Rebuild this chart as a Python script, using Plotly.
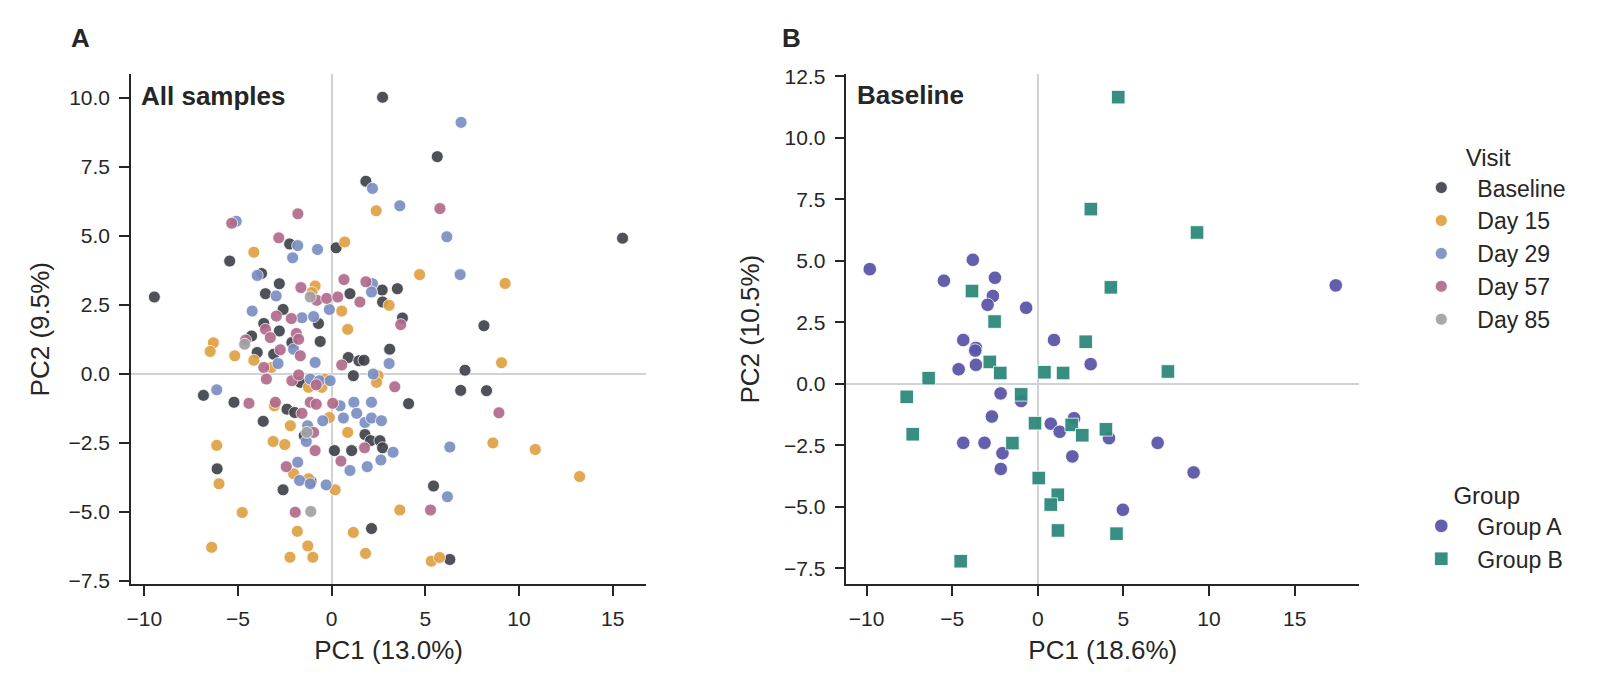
import plotly.graph_objects as go

# ---- panel A: all samples, PC scores by visit ----
visits = ["Baseline", "Day 15", "Day 29", "Day 57", "Day 85"]
visit_colors = ["#3f4349", "#e0a043", "#7b8fc3", "#b06b8b", "#a0a3a7"]

baseline_x = [2.72, 1.83, 5.64, 15.53, -5.44, -9.46, -6.84, -6.11, 2.13, 3.51, 3.78, 8.13, 7.12, 6.89, 8.27, 4.11, 5.44, 6.31,
              -2.24, 0.24, -3.74, -2.79, -3.53, 0.98, 2.70, 2.72, -2.59, -0.70, -3.62, -2.79, -4.27, -2.12, -0.61, -3.97, 0.89, 1.46, 1.73, 3.10, -3.09,
              1.16, -1.67, -5.21, -2.38, -1.97, -3.65, -1.46, 1.78, 2.08, 2.58, 2.72, 0.15, 1.07, -1.10, -2.59]
baseline_y = [10.01, 6.97, 7.86, 4.91, 4.08, 2.78, -0.78, -3.44, -5.60, 3.08, 2.02, 1.74, 0.13, -0.60, -0.61, -1.08, -4.06, -6.72,
              4.70, 4.56, 3.63, 3.26, 2.90, 2.90, 3.03, 2.60, 2.33, 1.82, 1.82, 1.55, 1.37, 1.13, 1.17, 0.77, 0.59, 0.47, 0.49, 0.89, 0.71,
              -0.07, -0.31, -1.03, -1.28, -1.40, -1.72, -2.24, -2.20, -2.42, -2.42, -2.68, -2.78, -2.78, -3.90, -4.20]

day15_x = [2.38, -6.31, -6.48, -6.13, -6.01, -6.40, -4.77, -1.83, -1.27, -2.22, -1.00, 1.16, 1.81,
           4.70, 9.26, 9.07, 8.61, 10.87, 13.24, 3.64, 5.32, 5.76,
           0.70, -4.15, -0.88, -1.05, 0.54, 3.07, -5.17, -4.15, 0.86,
           -3.21, -0.35, -1.23, -0.52, 2.48, 2.40, -3.05, -2.20, -0.12, -3.12, -2.50, 0.86, -2.03, -1.23, 0.19]
day15_y = [5.90, 1.12, 0.81, -2.59, -3.98, -6.28, -5.02, -5.70, -6.23, -6.64, -6.64, -5.74, -6.50,
           3.59, 3.27, 0.40, -2.50, -2.74, -3.72, -4.93, -6.78, -6.65,
           4.77, 4.40, 3.18, 2.94, 2.27, 2.48, 0.65, 0.49, 1.61,
           0.23, -0.19, -0.49, -0.49, -0.07, -0.31, -1.16, -1.88, -1.58, -2.45, -2.56, -2.12, -3.62, -3.80, -4.20]

day29_x = [2.18, -5.09, 6.91, 3.64, -6.13, 6.15, 6.86, 6.31, 6.18,
           -1.81, -0.75, -2.08, -3.97, -2.96, -0.12, 2.18, 2.13, -4.24, -1.58, -0.96, -2.03,
           -0.88, -2.86, -1.14, -0.65, -0.08, 2.22, 3.07, 0.45, -0.47, 0.63, 1.19, 2.13, 1.34, 1.78, 2.13, 2.66,
           -1.28, -1.35, 3.28, 0.98, 1.90, 2.63, -1.81, -1.71, -1.14, -0.29]
day29_y = [6.71, 5.52, 9.10, 6.08, -0.58, 4.96, 3.59, -2.65, -4.45,
           4.64, 4.50, 4.20, 3.56, 2.82, 2.33, 3.26, 2.96, 2.27, 2.03, 2.07, 0.89,
           0.41, 0.37, -0.19, -0.25, -0.25, -0.01, 0.37, -1.16, -1.70, -1.60, -1.03, -1.03, -1.43, -1.76, -1.60, -1.70,
           -1.88, -2.45, -2.84, -3.50, -3.36, -3.12, -3.20, -3.86, -3.98, -4.02]

day57_x = [-1.80, -5.33, 5.78, 3.69, 8.93, 5.28, -1.94,
           -2.82, -1.64, -0.79, -0.26, 0.33, 0.66, 1.51, 1.83, -2.95, -2.15, -3.53, -3.27, -4.59, -1.88, -1.76, -2.74, -1.67,
           -3.62, -3.48, -2.12, -1.76, -0.82, 0.54, 3.37, -4.41, -3.00, -1.58, -1.14, -0.82, 0.06, -0.96, -0.88, 1.76, 0.50, -2.42]
day57_y = [5.79, 5.45, 5.98, 1.78, -1.41, -4.93, -5.01,
           4.92, 3.12, 2.66, 2.73, 2.78, 3.41, 2.60, 3.33, 2.09, 2.00, 1.61, 1.31, 1.22, 1.46, 1.25, 0.87, 0.65,
           0.23, -0.19, -0.25, -0.04, -0.40, 0.32, -0.47, -1.07, -1.03, -1.43, -1.03, -1.10, -1.07, -2.12, -2.78, -2.68, -3.16, -3.36]

day85_x = [-1.14, -4.64, -1.32, -1.11]
day85_y = [2.78, 1.07, -2.12, -4.98]

# ---- panel B: baseline only, by group ----
groups = ["Group A", "Group B"]
group_colors = ["#5b57a8", "#2e8a7b"]

groupA_x = [-9.81, -3.79, -5.48, -2.50, -2.62, -2.93, -0.68, -4.35, -3.61, -3.65, -4.62, -3.61, 0.95, 3.09,
            -2.17, -0.97, -2.68, 0.76, 1.28, 2.12, -4.35, -3.11, -2.06, -2.16, 2.02, 4.16, 4.97, 7.0, 9.1, 17.4]
groupA_y = [4.66, 5.04, 4.19, 4.31, 3.57, 3.21, 3.09, 1.78, 1.46, 1.35, 0.59, 0.77, 1.78, 0.80,
            -0.39, -0.70, -1.33, -1.62, -1.95, -1.40, -2.40, -2.40, -2.82, -3.46, -2.95, -2.21, -5.12, -2.4, -3.6, 4.0]

groupB_x = [4.7, 3.1, 9.3, 4.27, -3.84, -2.52, 2.80, -2.80, -2.19, 0.39, 1.48, 7.6, -6.37, -7.65, -0.97,
            -7.30, -0.16, 1.98, 2.60, 3.98, -1.48, 0.06, 1.17, 0.76, 1.18, 4.60, -4.50]
groupB_y = [11.65, 7.1, 6.15, 3.92, 3.77, 2.53, 1.71, 0.89, 0.44, 0.47, 0.44, 0.5, 0.23, -0.53, -0.43,
            -2.05, -1.60, -1.67, -2.09, -1.85, -2.41, -3.83, -4.51, -4.91, -5.96, -6.09, -7.21]

visit_x = [baseline_x, day15_x, day29_x, day57_x, day85_x]
visit_y = [baseline_y, day15_y, day29_y, day57_y, day85_y]

FONT = "Liberation Sans, Arial, sans-serif"
INK = "#262626"

# page body keeps its default 8px margin; size the figure so the page is exactly 1600x691
W, H = 1600 - 16, 691 - 16


def px(x):  # screen x (px) -> paper x
    return (x - 8) / W


def py(y):  # screen y (px, from top) -> paper y
    return 1 - (y - 8) / H


fig = go.Figure()

for name, col, xs, ys in zip(visits, visit_colors, visit_x, visit_y):
    fig.add_trace(go.Scatter(
        x=xs, y=ys, mode="markers", name=name, xaxis="x", yaxis="y", legend="legend",
        marker=dict(size=12, color=col, opacity=0.92, line=dict(color="white", width=0.8)),
    ))

for name, col, sym, xs, ys in zip(groups, group_colors, ["circle", "square"],
                                  [groupA_x, groupB_x], [groupA_y, groupB_y]):
    fig.add_trace(go.Scatter(
        x=xs, y=ys, mode="markers", name=name, xaxis="x2", yaxis="y2", legend="legend2",
        marker=dict(size=13.5, symbol=sym, color=col, opacity=0.95,
                    line=dict(color="white", width=0.8)),
    ))

axis_common = dict(
    showline=True, linecolor=INK, linewidth=1.8, mirror=False,
    ticks="outside", ticklen=10, tickwidth=1.6, tickcolor=INK, ticklabelstandoff=5,
    showgrid=False, zeroline=True, zerolinecolor="#d0d3d6", zerolinewidth=1.5,
    tickfont=dict(family=FONT, size=21, color=INK),
    title_font=dict(family=FONT, size=26, color=INK),
)

legend_common = dict(xanchor="left", yanchor="top", bgcolor="rgba(0,0,0,0)", itemwidth=62,
                     font=dict(family=FONT, size=23, color=INK))

y_dom = [py(590.0), py(66.5)]

fig.update_layout(
    width=W, height=H,
    paper_bgcolor="white", plot_bgcolor="white",
    margin=dict(l=0, r=0, t=0, b=0),
    font=dict(family=FONT, color=INK),
    xaxis=dict(axis_common, domain=[px(126.5), px(643.0)], range=[-10.7, 16.78],
               tickvals=[-10, -5, 0, 5, 10, 15], title=dict(text="PC1 (13.0%)", standoff=11), anchor="y"),
    yaxis=dict(axis_common, domain=y_dom, range=[-7.62, 10.85],
               tickvals=[-7.5, -5, -2.5, 0, 2.5, 5, 7.5, 10], tickformat=".1f",
               title=dict(text="PC2 (9.5%)", standoff=11), anchor="x"),
    xaxis2=dict(axis_common, domain=[px(844.1), px(1358.3)], range=[-11.17, 18.76],
                tickvals=[-10, -5, 0, 5, 10, 15], title=dict(text="PC1 (18.6%)", standoff=11), anchor="y2"),
    yaxis2=dict(axis_common, domain=y_dom, range=[-8.15, 12.59],
                tickvals=[-7.5, -5, -2.5, 0, 2.5, 5, 7.5, 10, 12.5], tickformat=".1f",
                title=dict(text="PC2 (10.5%)", standoff=17), anchor="x2"),
    legend=dict(legend_common, x=px(1404.7), y=py(129),
                title=dict(text="Visit", side="top center", font=dict(family=FONT, size=24, color=INK))),
    legend2=dict(legend_common, x=px(1404.7), y=py(476),
                 title=dict(text="Group", side="top center", font=dict(family=FONT, size=24, color=INK))),
    showlegend=True,
)

fig.add_annotation(text="<b>A</b>", xref="paper", yref="paper", x=px(64), y=py(30),
                   xanchor="left", yanchor="middle", showarrow=False,
                   font=dict(family=FONT, size=26, color=INK))
fig.add_annotation(text="<b>B</b>", xref="paper", yref="paper", x=px(777), y=py(30),
                   xanchor="left", yanchor="middle", showarrow=False,
                   font=dict(family=FONT, size=26, color=INK))
fig.add_annotation(text="<b>All samples</b>", xref="x domain", yref="y domain", x=0.015, y=0.956,
                   xanchor="left", yanchor="middle", showarrow=False,
                   font=dict(family=FONT, size=26, color=INK))
fig.add_annotation(text="<b>Baseline</b>", xref="x2 domain", yref="y2 domain", x=0.017, y=0.958,
                   xanchor="left", yanchor="middle", showarrow=False,
                   font=dict(family=FONT, size=26, color=INK))

fig.write_html("out.html")
